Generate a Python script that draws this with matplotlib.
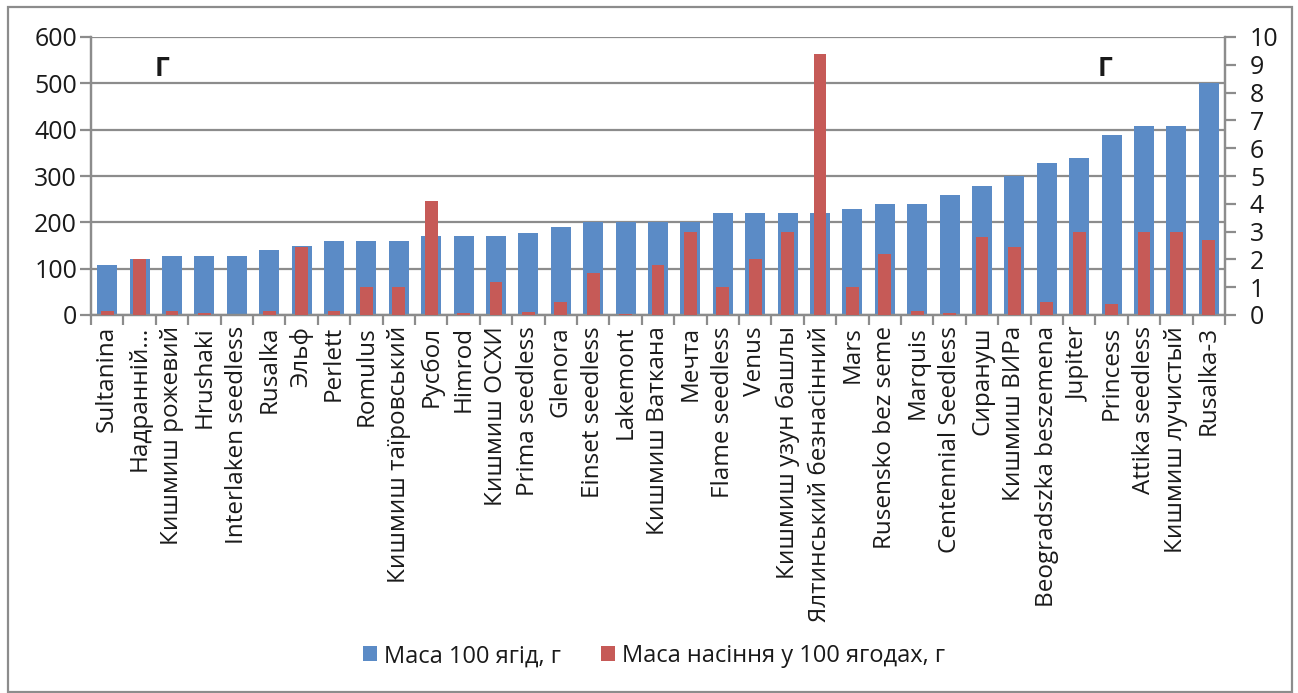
import matplotlib
matplotlib.use("Agg")
import matplotlib.pyplot as plt
from matplotlib.patches import Rectangle
import numpy as np

plt.rcParams["font.family"] = ["Open Sans", "DejaVu Sans"]

varieties = [
    "Sultanina", "Надранній…", "Кишмиш рожевий", "Hrushaki", "Interlaken seedless",
    "Rusalka", "Эльф", "Perlett", "Romulus", "Кишмиш таїровський", "Русбол",
    "Himrod", "Кишмиш ОСХИ", "Prima seedless", "Glenora", "Einset seedless",
    "Lakemont", "Кишмиш Ваткана", "Мечта", "Flame seedless", "Venus",
    "Кишмиш узун башлы", "Ялтинський безнасінний", "Mars", "Rusensko bez seme",
    "Marquis", "Centennial Seedless", "Сирануш", "Кишмиш ВИРа",
    "Beogradszka beszemena", "Jupiter", "Princess", "Attika seedless",
    "Кишмиш лучистый", "Rusalka-3",
]

# mass of 100 berries, g (left axis)
berry_mass = [
    108, 120, 128, 128, 128, 140, 148, 160, 160, 160, 170,
    170, 170, 178, 190, 200, 200, 200, 200, 220, 220,
    220, 220, 228, 240, 240, 258, 278, 300, 327, 338,
    388, 407, 407, 500,
]

# mass of seeds in 100 berries, g (right axis)
seed_mass = [
    0.15, 2.0, 0.15, 0.06, 0.0, 0.15, 2.45, 0.15, 1.0, 1.0, 4.1,
    0.06, 1.2, 0.1, 0.47, 1.5, 0.05, 1.8, 3.0, 1.0, 2.0,
    3.0, 9.4, 1.0, 2.2, 0.15, 0.06, 2.8, 2.45, 0.46, 3.0,
    0.4, 3.0, 3.0, 2.7,
]

left_ticks = [0, 100, 200, 300, 400, 500, 600]
right_ticks = list(range(0, 11))

series_names = ["Маса 100 ягід, г", "Маса насіння у 100 ягодах, г"]

BLUE = "#5B8BC6"
RED = "#C65A57"
GRID = "#8C8C8C"
TEXT = "#1A1A1A"

fig = plt.figure(figsize=(12.98, 6.93), dpi=100)
fig.patch.set_facecolor("white")

# outer chart frame
fig.patches.append(Rectangle((8 / 1298, 1 / 693), 1284 / 1298, 685 / 693,
                             transform=fig.transFigure, fill=False,
                             edgecolor=GRID, linewidth=1.6))

ax = fig.add_axes([91 / 1298, (693 - 315) / 693, 1134 / 1298, 278 / 693])
ax2 = ax.twinx()

x = np.arange(len(varieties))
b1 = ax.bar(x, berry_mass, width=0.62, color=BLUE, zorder=2, label=series_names[0])
b2 = ax2.bar(x, seed_mass, width=0.40, color=RED, zorder=3, label=series_names[1])

ax.set_xlim(-0.5, len(varieties) - 0.5)
ax.set_ylim(0, 600)
ax2.set_ylim(0, 10)

ax.set_yticks(left_ticks)
ax2.set_yticks(right_ticks)
ax.yaxis.grid(True, color=GRID, linewidth=1.6)
ax.set_axisbelow(True)

for a in (ax, ax2):
    a.spines["top"].set_visible(False)
    for side in ("left", "right", "bottom"):
        a.spines[side].set_color(GRID)
        a.spines[side].set_linewidth(1.6)

ax.tick_params(axis="y", direction="out", length=8, width=1.6, color=GRID,
               labelsize=18, labelcolor=TEXT, pad=2)
ax2.tick_params(axis="y", direction="out", length=8, width=1.6, color=GRID,
                labelsize=18, labelcolor=TEXT, pad=10)

# category labels centred under bars, tick marks on category boundaries
ax.set_xticks(x)
ax.set_xticklabels(varieties, rotation=90, fontsize=17.5, color=TEXT)
ax.tick_params(axis="x", which="major", length=0, pad=8)
ax.set_xticks(np.arange(-0.5, len(varieties) + 0.5, 1), minor=True)
ax.tick_params(axis="x", which="minor", direction="out", length=7, width=1.6, color=GRID)

ax.text(0.0625, 0.885, "Г", transform=ax.transAxes, fontsize=19,
        fontweight="bold", ha="center", va="center", color=TEXT)
ax.text(0.894, 0.885, "Г", transform=ax.transAxes, fontsize=19,
        fontweight="bold", ha="center", va="center", color=TEXT)

fig.legend(handles=[b1, b2], labels=series_names, loc="center",
           bbox_to_anchor=(0.504, 0.053), ncol=2, frameon=False,
           fontsize=17, handlelength=0.6, handleheight=0.6, handletextpad=0.3,
           columnspacing=1.7, labelcolor=TEXT)

fig.savefig("out.png", dpi=100, facecolor="white")
